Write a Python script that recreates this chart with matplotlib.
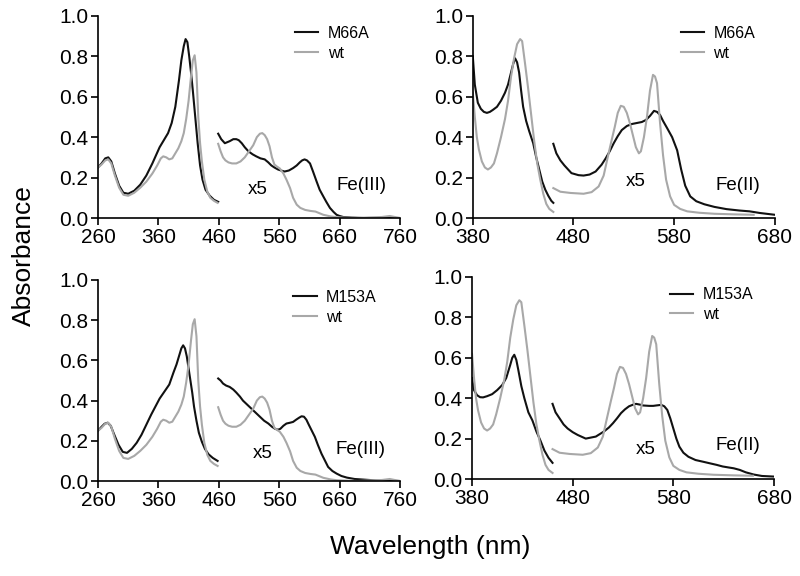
import matplotlib
matplotlib.use('Agg')
import matplotlib.pyplot as plt

plt.rcParams['font.family'] = ['Liberation Sans', 'DejaVu Sans']

# 흑백 색상
BLACK = '#111111'
GRAY = '#a8a8a8'

# ---- Fe(III) wt ----
wt_fe3_sor_x = [260, 266, 272, 277, 282, 288, 295, 302, 310, 320, 330, 340, 350, 358, 364, 368, 373, 378, 383,
                388, 393, 398, 402, 406, 410, 414, 417, 420, 423, 426, 429, 432, 436, 441, 446, 452, 458]
wt_fe3_sor_y = [.25, .265, .285, .29, .27, .21, .15, .115, .11, .125, .15, .18, .22, .26, .295, .305, .30, .29, .295,
                .32, .345, .38, .42, .49, .58, .70, .78, .805, .72, .50, .37, .28, .19, .13, .10, .085, .075]
wt_fe3_vis_x = [459, 463, 467, 471, 476, 482, 489, 496, 503, 510, 517, 523, 528, 532, 536, 540, 544, 548, 552, 556,
                561, 567, 572, 578, 583, 589, 595, 603, 612, 620, 633, 645, 655, 670, 690, 710, 730, 743, 760]
wt_fe3_vis_y = [.367, .33, .30, .285, .275, .27, .27, .28, .30, .33, .36, .40, .417, .42, .41, .39, .355, .30, .265,
                .255, .245, .22, .19, .148, .10, .066, .05, .04, .035, .032, .016, .008, .004, .002, .0, .003, .005,
                .01, .0]

# ---- Fe(III) M66A ----
m66a_fe3_sor_x = [260, 266, 272, 277, 282, 288, 295, 302, 310, 320, 330, 340, 350, 356, 362, 370, 376, 382, 388, 394,
                  398, 402, 405, 408, 411, 414, 417, 421, 425, 429, 433, 438, 445, 452, 459]
m66a_fe3_sor_y = [.25, .27, .295, .30, .28, .22, .16, .125, .12, .135, .165, .21, .27, .31, .35, .39, .42, .47, .55,
                  .68, .78, .85, .885, .87, .80, .72, .63, .50, .37, .26, .19, .14, .11, .09, .08]
m66a_fe3_vis_x = [459, 464, 470, 478, 484, 489, 493, 498, 503, 509, 516, 522, 529, 536, 542, 547, 552, 558, 563, 569,
                  576, 583, 589, 594, 598, 602, 606, 611, 616, 622, 627, 633, 638, 644, 650, 655, 660, 666, 680, 700,
                  730, 760]
m66a_fe3_vis_y = [.417, .39, .37, .38, .39, .39, .385, .37, .35, .33, .315, .305, .295, .29, .275, .26, .25, .24, .235,
                  .23, .235, .247, .26, .275, .285, .29, .285, .27, .23, .18, .14, .107, .08, .05, .03, .016, .01,
                  .005, .002, .0, .0, .0]

# ---- Fe(III) M153A ----
m153a_fe3_sor_x = [260, 266, 271, 276, 281, 287, 294, 301, 308, 316, 324, 332, 340, 348, 355, 362, 370, 378, 385,
                   390, 395, 398, 401, 404, 407, 410, 413, 416, 419, 423, 427, 432, 437, 443, 450, 458]
m153a_fe3_sor_y = [.25, .27, .285, .29, .275, .23, .18, .145, .14, .16, .19, .23, .28, .33, .37, .41, .445, .48, .54,
                   .58, .63, .66, .675, .66, .62, .56, .50, .44, .37, .30, .24, .195, .16, .133, .115, .10]
m153a_fe3_vis_x = [459, 463, 467, 472, 478, 484, 489, 495, 500, 507, 514, 521, 528, 535, 542, 548, 553, 558, 562,
                   567, 572, 578, 583, 588, 593, 597, 601, 605, 609, 614, 619, 624, 630, 636, 641, 648, 655, 663, 672,
                   685, 700, 720, 740, 760]
m153a_fe3_vis_y = [.51, .50, .485, .475, .468, .455, .44, .42, .40, .38, .36, .34, .32, .30, .286, .27, .26, .255,
                   .26, .275, .286, .29, .294, .305, .315, .322, .32, .305, .28, .25, .22, .18, .136, .10, .07, .05,
                   .037, .025, .017, .01, .007, .003, .001, .0]

# ---- Fe(II) wt ----
wt_fe2_sor_x = [380, 382, 384, 386, 389, 392, 395, 398, 401, 404, 408, 412, 415, 418, 421, 424, 427, 429, 432, 435,
                438, 441, 444, 447, 450, 453, 456, 460]
wt_fe2_sor_y = [.62, .50, .40, .34, .28, .25, .24, .25, .27, .32, .40, .49, .58, .70, .79, .86, .885, .875, .76,
                .64, .51, .38, .27, .19, .12, .07, .045, .03]
wt_fe2_vis_x = [460, 467, 477, 490, 498, 505, 510, 514, 518, 521, 524, 527, 530, 533, 536, 539, 542, 545, 547, 550,
                553, 556, 559, 561, 563, 566, 569, 572, 576, 580, 586, 593, 605, 620, 640, 659]
wt_fe2_vis_y = [.148, .13, .124, .12, .128, .156, .21, .30, .387, .45, .52, .555, .55, .52, .47, .41, .35, .32, .33,
                .40, .50, .63, .708, .70, .667, .47, .31, .19, .107, .065, .045, .033, .026, .021, .018, .016]

# ---- Fe(II) M66A ----
m66a_fe2_sor_x = [380, 382, 385, 388, 391, 394, 397, 400, 404, 408, 412, 415, 418, 420, 422, 424, 426, 428, 430, 433,
                  436, 440, 443, 446, 449, 452, 455, 458, 460]
m66a_fe2_sor_y = [.80, .66, .57, .54, .525, .52, .525, .535, .55, .58, .62, .66, .72, .76, .79, .77, .72, .63, .55,
                  .48, .43, .37, .30, .24, .18, .14, .11, .085, .075]
m66a_fe2_vis_x = [460, 463, 467, 471, 478, 485, 490, 496, 502, 508, 512, 516, 520, 524, 528, 533, 538, 543, 548, 552,
                  556, 560, 563, 566, 569, 573, 578, 583, 587, 591, 596, 602, 610, 620, 632, 645, 655, 665, 680]
m66a_fe2_vis_y = [.367, .32, .285, .26, .222, .212, .21, .215, .23, .264, .295, .33, .37, .405, .435, .455, .465,
                  .47, .475, .485, .505, .53, .525, .51, .48, .445, .40, .335, .24, .16, .107, .083, .068, .055, .044,
                  .037, .033, .025, .016]

# ---- Fe(II) M153A ----
m153a_fe2_sor_x = [380, 382, 385, 388, 391, 395, 400, 405, 410, 414, 418, 420, 422, 424, 426, 429, 432, 436, 440, 444,
                   448, 452, 456, 460]
m153a_fe2_sor_y = [.50, .44, .415, .405, .404, .41, .42, .44, .465, .50, .565, .60, .615, .59, .54, .46, .40, .33,
                   .29, .235, .19, .14, .105, .08]
m153a_fe2_vis_x = [460, 463, 467, 471, 475, 480, 485, 493, 503, 511, 516, 520, 524, 528, 532, 536, 540, 543, 547, 550,
                   556, 560, 563, 568, 571, 574, 577, 580, 583, 586, 590, 595, 602, 610, 616, 623, 629, 635, 640, 646,
                   652, 660, 668, 680]
m153a_fe2_vis_y = [.372, .33, .30, .27, .25, .232, .218, .20, .21, .235, .255, .276, .30, .326, .345, .36, .368, .372,
                   .368, .364, .362, .362, .364, .367, .36, .342, .30, .25, .20, .16, .13, .11, .094, .085, .078, .07,
                   .062, .057, .053, .045, .033, .022, .015, .012]


def style_axis(ax, xmin, xmax):
    ax.set_xlim(xmin, xmax)
    ax.set_ylim(0, 1.0)
    ax.set_xticks(range(xmin, xmax + 1, 100))
    ax.set_yticks([0.0, 0.2, 0.4, 0.6, 0.8, 1.0])
    ax.set_yticklabels(['0.0', '0.2', '0.4', '0.6', '0.8', '1.0'])
    ax.spines['top'].set_visible(False)
    ax.spines['right'].set_visible(False)
    ax.spines['left'].set_linewidth(1.2)
    ax.spines['bottom'].set_linewidth(1.2)
    ax.tick_params(direction='out', length=5, width=1.2, labelsize=15, pad=2)


def draw_panel(ax, mut, wt, name, xmin, xmax, x5_pos, fe_text, fe_pos, leg_anchor):
    # mut, wt = (soret_x, soret_y, vis_x, vis_y)
    ax.plot(mut[0], mut[1], color=BLACK, lw=1.5, label=name)
    ax.plot(wt[0], wt[1], color=GRAY, lw=1.5, label='wt')
    ax.plot(mut[2], mut[3], color=BLACK, lw=1.5)
    ax.plot(wt[2], wt[3], color=GRAY, lw=1.5)
    ax.text(x5_pos[0], x5_pos[1], 'x5', fontsize=13.5, ha='center', va='center')
    ax.text(fe_pos[0], fe_pos[1], fe_text, fontsize=13.5, ha='center', va='center')
    ax.legend(loc='upper left', bbox_to_anchor=leg_anchor, frameon=False, fontsize=11.5,
              handlelength=1.45, handletextpad=0.6, labelspacing=0.3, borderpad=0, borderaxespad=0)
    style_axis(ax, xmin, xmax)


fig = plt.figure(figsize=(8, 5.76), dpi=100)
ax1 = fig.add_axes([0.1225, 0.6215, 0.3775, 0.351])
ax2 = fig.add_axes([0.591, 0.6215, 0.3775, 0.351])
ax3 = fig.add_axes([0.1225, 0.1649, 0.3775, 0.349])
ax4 = fig.add_axes([0.59, 0.1684, 0.3775, 0.3507])

draw_panel(ax1, (m66a_fe3_sor_x, m66a_fe3_sor_y, m66a_fe3_vis_x, m66a_fe3_vis_y),
           (wt_fe3_sor_x, wt_fe3_sor_y, wt_fe3_vis_x, wt_fe3_vis_y),
           'M66A', 260, 760, (525, 0.139), 'Fe(III)', (696, 0.163), (0.652, 0.95))
draw_panel(ax2, (m66a_fe2_sor_x, m66a_fe2_sor_y, m66a_fe2_vis_x, m66a_fe2_vis_y),
           (wt_fe2_sor_x, wt_fe2_sor_y, wt_fe2_vis_x, wt_fe2_vis_y),
           'M66A', 380, 680, (542, 0.18), 'Fe(II)', (643, 0.163), (0.688, 0.95))
draw_panel(ax3, (m153a_fe3_sor_x, m153a_fe3_sor_y, m153a_fe3_vis_x, m153a_fe3_vis_y),
           (wt_fe3_sor_x, wt_fe3_sor_y, wt_fe3_vis_x, wt_fe3_vis_y),
           'M153A', 260, 760, (532, 0.136), 'Fe(III)', (694, 0.157), (0.647, 0.95))
draw_panel(ax4, (m153a_fe2_sor_x, m153a_fe2_sor_y, m153a_fe2_vis_x, m153a_fe2_vis_y),
           (wt_fe2_sor_x, wt_fe2_sor_y, wt_fe2_vis_x, wt_fe2_vis_y),
           'M153A', 380, 680, (553, 0.144), 'Fe(II)', (644, 0.168), (0.656, 0.95))

fig.text(0.03, 0.557, 'Absorbance', rotation=90, fontsize=19, ha='center', va='center')
fig.text(0.5375, 0.05, 'Wavelength (nm)', fontsize=19, ha='center', va='center')

fig.savefig('out.png', dpi=100)
